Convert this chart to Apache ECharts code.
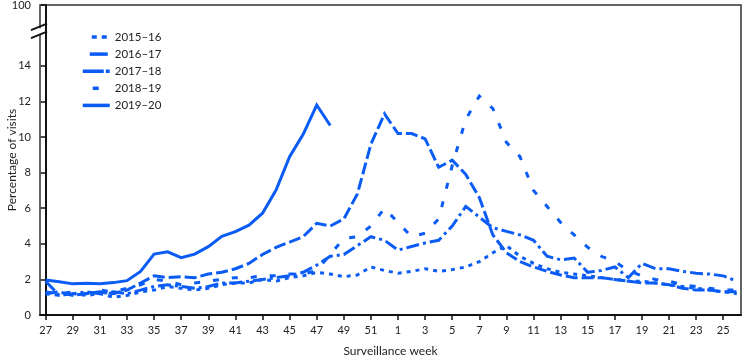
<!DOCTYPE html>
<html><head><meta charset="utf-8">
<script src="https://cdn.jsdelivr.net/npm/echarts@6/dist/echarts.min.js"></script>
<style>html,body{margin:0;padding:0;background:#fff}#c{width:745px;height:361px}</style>
</head><body><div id="c"></div>
<script>
const weeks = [27,28,29,30,31,32,33,34,35,36,37,38,39,40,41,42,43,44,45,46,47,48,49,50,51,52,1,2,3,4,5,6,7,8,9,10,11,12,13,14,15,16,17,18,19,20,21,22,23,24,25,26];
const s1516 = [1.2,1.1,1.2,1.1,1.2,1.0,1.1,1.3,1.4,1.6,1.5,1.4,1.5,1.7,1.8,1.8,2.0,1.9,2.1,2.2,2.4,2.3,2.15,2.25,2.7,2.5,2.35,2.45,2.6,2.45,2.55,2.7,3.0,3.5,3.9,3.3,2.9,2.6,2.4,2.3,2.2,2.1,2.0,1.9,1.9,1.8,1.7,1.6,1.5,1.4,1.3,1.2];
const s1617 = [1.2,1.3,1.1,1.2,1.3,1.2,1.4,1.8,2.2,2.1,2.15,2.1,2.3,2.4,2.6,2.9,3.4,3.8,4.1,4.4,5.15,5.0,5.4,6.8,9.6,11.3,10.2,10.2,9.9,8.3,8.7,7.9,6.6,4.5,3.5,3.0,2.7,2.45,2.25,2.1,2.1,2.1,2.0,1.9,1.8,1.8,1.7,1.5,1.4,1.4,1.3,1.3];
const s1718 = [1.9,1.1,1.2,1.3,1.2,1.3,1.2,1.4,1.6,1.7,1.6,1.5,1.6,1.8,1.8,1.9,2.0,2.1,2.2,2.4,2.8,3.3,3.4,3.9,4.4,4.2,3.65,3.85,4.05,4.2,5.0,6.1,5.5,4.9,4.7,4.5,4.2,3.3,3.1,3.2,2.4,2.5,2.7,2.1,2.9,2.6,2.6,2.45,2.35,2.3,2.2,1.9];
const s1819 = [1.3,1.2,1.3,1.2,1.4,1.3,1.5,1.7,2.0,1.9,1.7,1.8,1.9,2.0,2.1,2.1,2.2,2.2,2.3,2.3,2.5,3.4,4.3,4.4,5.0,6.0,5.2,4.4,4.6,5.4,8.4,11.0,12.3,11.6,9.7,8.9,7.0,6.1,5.2,4.5,3.8,3.3,3.0,2.5,2.2,2.0,1.9,1.7,1.6,1.5,1.4,1.4];
const s1920 = [1.97,1.87,1.75,1.78,1.75,1.82,1.93,2.45,3.42,3.55,3.22,3.42,3.84,4.42,4.68,5.05,5.72,7.02,8.9,10.15,11.8,10.65];
const seriesNames = ['2015–16','2016–17','2017–18','2018–19','2019–20'];
const yTickValues = [0,2,4,6,8,10,12,14];
const yTopLabel = '100';
const yTopPos = 17.42;   // display position of the 100 tick above the break
const yBreakPos = 15.95; // display position of the axis break
const xTickIdx = [];
for (let i = 0; i < weeks.length; i += 2) xTickIdx.push(i);

const blue = '#0a5cf5';
const dashes = [[4,5],[12,4],[13,4,3,4],[6,13],'solid'];
const legendDash = [[5,5,5,20],[18,20],[21,2,4,10],[6,30],'solid'];
const legendOffset = [26,31,0,26,0];
const dataSets = [s1516, s1617, s1718, s1819, s1920];
const font = 'Lato, "Open Sans", sans-serif';

const chart = echarts.init(document.getElementById('c'), null, {renderer:'canvas'});
const series = dataSets.map((d, k) => ({
  name: seriesNames[k], type: 'line', symbol: 'none', smooth: false,
  data: d.map((v, i) => [i, v]),
  lineStyle: {color: blue, width: 3, type: dashes[k], cap: 'butt', join: 'miter'},
  itemStyle: {color: blue},
  z: 5 - k
}));
chart.setOption({
  animation: false,
  grid: {left: 40, right: 4, top: 5, bottom: 46, show: true, borderColor: '#333', borderWidth: 1.5, outerBoundsMode: 'none'},
  legend: {
    data: seriesNames.map((n, k) => ({name: n, lineStyle: {type: legendDash[k], dashOffset: legendOffset[k], width: 3.5, color: blue, cap: 'butt'}})),
    orient: 'vertical', left: 76, top: 26,
    itemWidth: 27, itemHeight: 10, itemGap: 5.1,
    itemStyle: {opacity: 0, color: 'rgba(0,0,0,0)', borderWidth: 0},
    textStyle: {fontFamily: font, fontSize: 11.5, color: '#222'}
  },
  xAxis: {
    type: 'value', min: -0.42, max: 51.31,
    name: 'Surveillance week', nameLocation: 'middle', nameGap: 30, nameMoveOverlap: false,
    nameTextStyle: {fontFamily: font, fontSize: 12, color: '#222'},
    splitLine: {show: false},
    axisLine: {lineStyle: {color: '#111', width: 2}},
    axisTick: {customValues: xTickIdx, length: 5, lineStyle: {color: '#111', width: 1.5}},
    axisLabel: {customValues: xTickIdx, formatter: v => String(weeks[Math.round(v)]), fontFamily: font, fontSize: 11, color: '#222', margin: 10}
  },
  yAxis: {
    type: 'value', min: 0, max: yTopPos,
    name: 'Percentage of visits', nameLocation: 'middle', nameGap: 22, nameMoveOverlap: false,
    nameTextStyle: {fontFamily: font, fontSize: 12, color: '#222'},
    splitLine: {show: false},
    axisLine: {show: true, lineStyle: {color: '#111', width: 2}},
    axisTick: {show: true, customValues: yTickValues.concat([yTopPos]), length: 5, lineStyle: {color: '#111', width: 1.5}},
    axisLabel: {customValues: yTickValues.concat([yTopPos]), formatter: v => v > 15 ? yTopLabel : String(v), fontFamily: font, fontSize: 11, color: '#222', margin: 9}
  },
  series: series
});
// axis break marker
const pb = chart.convertToPixel({gridIndex: 0}, [-0.42, yBreakPos]);
const ax = pb[0], ay = pb[1];
chart.setOption({graphic: [
  {type: 'rect', shape: {x: ax - 3, y: ay - 3, width: 6, height: 6}, style: {fill: '#fff'}, z: 100},
  {type: 'line', shape: {x1: ax - 9, y1: ay - 1, x2: ax + 7, y2: ay - 7.5}, style: {stroke: '#111', lineWidth: 2}, z: 101},
  {type: 'line', shape: {x1: ax - 9, y1: ay + 7, x2: ax + 7, y2: ay + 0.5}, style: {stroke: '#111', lineWidth: 2}, z: 101}
]});
</script></body></html>
